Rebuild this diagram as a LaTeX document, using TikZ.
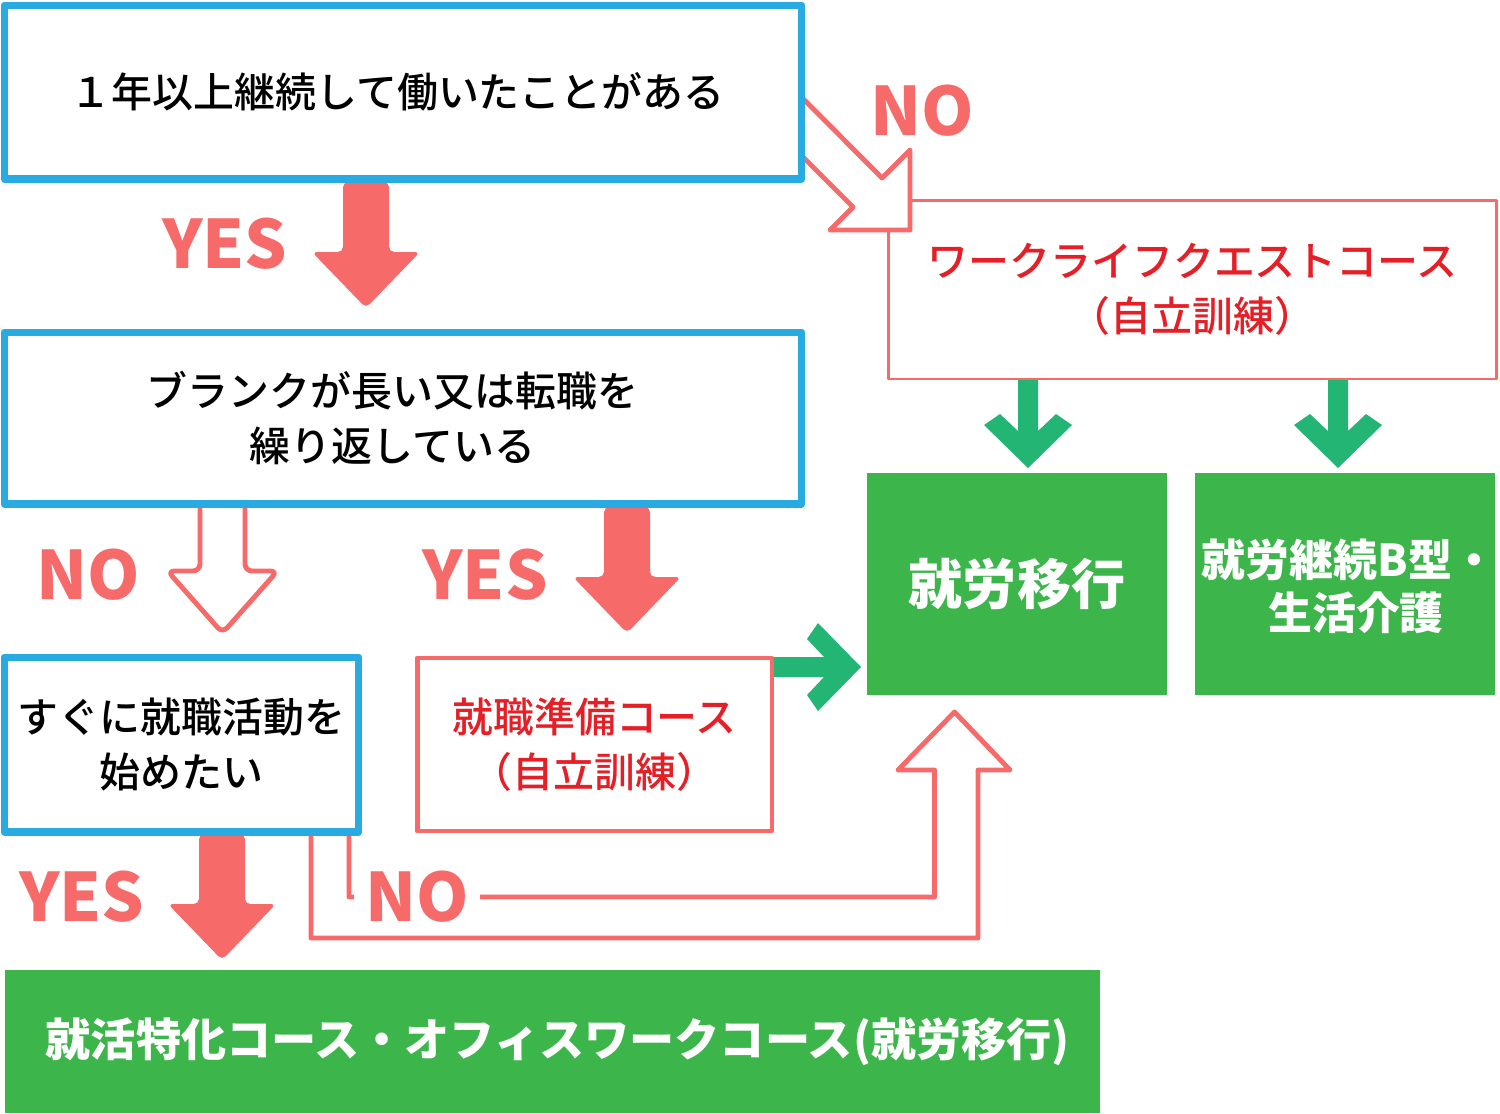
\documentclass[tikz,border=0pt]{standalone}
\usepackage{fontspec}
\setmainfont{Noto Sans CJK JP}
\newfontfamily\jpmed{Noto Sans CJK JP Medium}
\usetikzlibrary{calc}
\definecolor{skyblue}{HTML}{29ABE2}
\definecolor{pinkred}{HTML}{F76A6A}
\definecolor{textred}{HTML}{E61F26}
\definecolor{boxgreen}{HTML}{3CB54A}
\definecolor{arrowgreen}{HTML}{23B574}
\tikzset{
  gdown/.pic={\fill[arrowgreen] (-10,0) -- (-10,51) -- (-28,34) -- (-44,45) -- (0,88) -- (44,45) -- (28,34) -- (10,51) -- (10,0) -- cycle;},
  yesdown/.pic={\fill[pinkred,rounded corners=3] (-23,0) -- (-23,70) -- (-54,70) -- (0,126) -- (54,70) -- (23,70) -- (23,0) -- cycle;},
  nodown/.pic={\draw[pinkred,line width=2.8pt,rounded corners=4] (-22.5,0) -- (-22.5,64) -- (-55,64) -- (0,126) -- (55,64) -- (22.5,64) -- (22.5,0);}
}
\begin{document}
\begin{tikzpicture}[x=0.02cm,y=-0.02cm,line join=round,
  every node/.style={inner sep=0pt,align=center},
  txt/.style={font=\fontsize{23.3}{31}\selectfont\jpmed},
  blbox/.style={txt,draw=skyblue,line width=4pt,fill=white},
  rdbox/.style={txt,draw=pinkred,fill=white,text=textred},
  grbox/.style={fill=boxgreen,text=white,font=\fontsize{25}{30}\selectfont\bfseries},
  yn/.style={text=pinkred,font=\fontsize{38}{40}\selectfont\bfseries},
  noline/.style={draw=pinkred,line width=2.8pt}]
\useasboundingbox (0,0) rectangle (1500,1113);

% answer boxes
\node[rdbox,line width=1.7pt,minimum width=12.18cm,minimum height=3.58cm] (c2) at (1192.5,289.5) {ワークライフクエストコース\\（自立訓練）};
\node[grbox,minimum width=6cm,minimum height=4.44cm,font=\fontsize{30.8}{36}\selectfont\bfseries] (g1) at (1017,584) {就労移行};
\node[grbox,minimum width=6cm,minimum height=4.44cm] (g2) at (1345,584) {};
\node[grbox,fill=none] (g2t) at ($(g2.center)+(4,2)$) {就労継続B型・\\\hspace*{8pt}生活介護};
\node[grbox,minimum width=21.9cm,minimum height=2.86cm,font=\fontsize{25.7}{30}\selectfont\bfseries] (g3) at (552.5,1041.5) {\hspace*{6pt}就活特化コース・オフィスワークコース(就労移行)};

% arrows
\draw[pinkred,line width=2.8pt,fill=white] (806.5,92) ++(-6,4) -- (882,178) -- (910,150) -- (910,230) -- (830,230) -- (853,207) -- (800,154);
\pic at (366,182) {yesdown};
\pic at (627,507) {yesdown};
\pic at (222,834) {yesdown};
\pic at (222.5,507) {nodown};
\pic at (1028,380) {gdown};
\pic at (1338,380) {gdown};
\pic[rotate=90] at (773,667) {gdown};
\draw[noline] (311,830) |- (978,938) -- (978,770) -- (1010,770) -- (954.5,712) -- (898,770) -- (934.5,770) |- (349,897) -- (349,830);

% question boxes
\node[blbox,minimum width=15.96cm,minimum height=3.48cm] (q1) at (403,92) {１年以上継続して働いたことがある\hspace*{6pt}};
\node[blbox,minimum width=15.96cm,minimum height=3.44cm] (q2) at (403,418) {ブランクが長い又は転職を\hspace*{12pt}\\繰り返している\hspace*{12pt}};
\node[blbox,minimum width=7.1cm,minimum height=3.5cm] (q3) at (181.5,744.5) {すぐに就職活動を\\始めたい};
\node[rdbox,line width=2.8pt,minimum width=7.1cm,minimum height=3.46cm] (c1) at (594.5,744.5) {就職準備コース\\（自立訓練）};

% labels
\node[yn] (n1) at (922,111) {NO};
\node[yn] (y1) at (225,244) {YES};
\node[yn] (n2) at (88,575) {NO};
\node[yn] (y2) at (485,575) {YES};
\node[yn] (y3) at (82,897) {YES};
\node[yn,fill=white,inner xsep=0.22cm,inner ysep=0.03cm] (n3) at (417,897) {NO};
\end{tikzpicture}
\end{document}
